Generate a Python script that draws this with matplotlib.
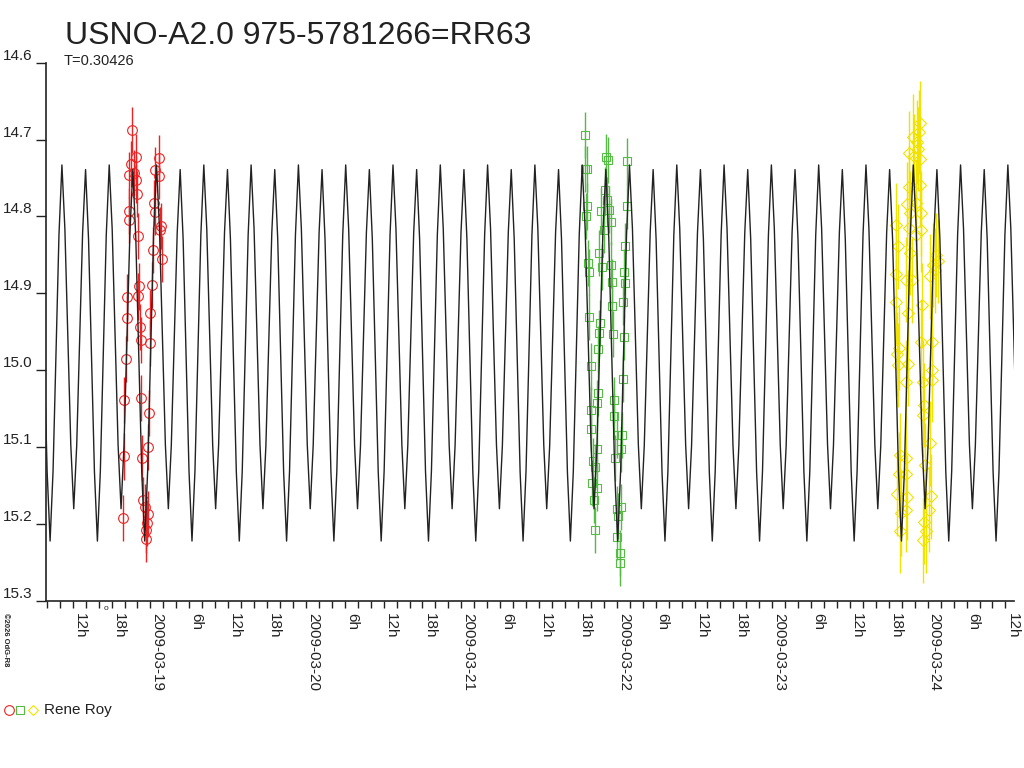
import numpy as np
import matplotlib
matplotlib.use('Agg')
import matplotlib.pyplot as plt
from matplotlib.lines import Line2D
from matplotlib.ticker import FixedLocator, FuncFormatter

plt.rcParams['font.family'] = ['Liberation Sans', 'DejaVu Sans']

# ---------------------------------------------------------------
# data (time = day of March 2009, magnitude)
title = 'USNO-A2.0 975-5781266=RR63'
period = 0.30426
epoch = 18.3545   # deep minimum of the model curve

# one cycle of the model light curve (phase from deep minimum)
model_phase = [0.0, 0.0625, 0.125, 0.1875, 0.25, 0.3125, 0.375, 0.4375,
               0.5, 0.5625, 0.625, 0.6875, 0.75, 0.8125, 0.875, 0.9375]
model_mag = [15.222, 15.131, 14.978, 14.824, 14.733, 14.816, 14.957, 15.097,
             15.180, 15.098, 14.960, 14.821, 14.739, 14.829, 14.981, 15.132]

red_t = [18.8232, 18.8296, 18.8315, 18.8405, 18.8469, 18.8508, 18.8598, 18.8617,
         18.8637, 18.8727, 18.8830, 18.8958, 18.9048, 18.9068, 18.9151, 18.9196,
         18.9215, 18.9241, 18.9325, 18.9370, 18.9408, 18.9453, 18.9537, 18.9627,
         18.9691, 18.9711, 18.9756, 18.9839, 18.9859, 18.9923, 18.9949, 18.9987,
         19.0096, 19.0141, 19.0244, 19.0289, 19.0309, 19.0547, 19.0566, 19.0630,
         19.0656, 19.0720]
red_m = [15.192, 15.112, 15.039, 14.985, 14.932, 14.905, 14.805, 14.793,
         14.746, 14.732, 14.687, 14.743, 14.723, 14.752, 14.771, 14.825,
         14.904, 14.891, 14.944, 14.961, 15.036, 15.114, 15.169, 15.178,
         15.219, 15.207, 15.199, 15.187, 15.100, 15.055, 14.926, 14.965,
         14.889, 14.844, 14.782, 14.739, 14.794, 14.724, 14.747, 14.818,
         14.812, 14.855]
red_err = 0.03

green_t = [21.7961, 21.7942, 21.8071, 21.8051, 21.8090, 21.8135, 21.8199, 21.8244,
           21.8309, 21.8328, 21.8373, 21.8412, 21.8457, 21.8521, 21.8605, 21.8630,
           21.8695, 21.8733, 21.8759, 21.8823, 21.8823, 21.8862, 21.8887, 21.8952,
           21.8971, 21.9080, 21.9183, 21.9228, 21.9293, 21.9376, 21.9421, 21.9531,
           21.9614, 21.9659, 21.9698, 21.9723, 21.9788, 21.9826, 21.9852, 21.9916,
           22.0000, 22.0000, 22.0045, 22.0109, 22.0193, 22.0238, 22.0257, 22.0302,
           22.0341, 22.0386, 22.0431, 22.0450, 22.0495, 22.0560, 22.0560, 22.0643,
           22.0688]
green_m = [14.694, 14.738, 14.738, 14.799, 14.787, 14.860, 14.872, 14.931,
           14.995, 15.052, 15.076, 15.146, 15.118, 15.169, 15.126, 15.208,
           15.102, 15.153, 15.042, 15.030, 14.972, 14.847, 14.952, 14.939,
           14.793, 14.866, 14.818, 14.766, 14.723, 14.779, 14.726, 14.791,
           14.807, 14.863, 14.885, 14.916, 14.953, 15.039, 15.059, 15.114,
           15.084, 15.180, 15.217, 15.189, 15.238, 15.250, 15.178, 15.102,
           15.084, 15.011, 14.911, 14.957, 14.872, 14.839, 14.887, 14.786,
           14.728]
green_err = 0.03

yellow_t = [23.7942, 23.7987, 23.7987, 23.8026, 23.8026, 23.8090, 23.8090, 23.8135,
            23.8154, 23.8199, 23.8199, 23.8264, 23.8585, 23.8630, 23.8630, 23.8630,
            23.8630, 23.8669, 23.8669, 23.8733, 23.8759, 23.8778, 23.8797, 23.8797,
            23.8887, 23.8887, 23.9016, 23.9055, 23.9119, 23.9228, 23.9273, 23.9312,
            23.9402, 23.9441, 23.9486, 23.9486, 23.9486, 23.9595, 23.9595, 23.9595,
            23.9659, 23.9698, 23.9698, 23.9698, 23.9743, 23.9762, 23.9807, 23.9871,
            24.0064, 24.0174, 24.0174, 24.0238, 24.0277, 24.0277, 24.0277, 24.0341,
            24.0450, 24.0560, 24.0662]
yellow_m = [14.875, 14.811, 14.911, 14.979, 15.161, 14.839, 14.993, 14.971,
            15.135, 15.110, 15.209, 15.186, 15.181, 14.882, 15.015, 15.114,
            15.135, 14.784, 15.165, 14.992, 14.925, 14.762, 14.718, 14.815,
            14.796, 14.847, 14.883, 14.696, 14.722, 14.782, 14.824, 14.703,
            14.712, 14.690, 14.679, 14.725, 14.759, 14.796, 14.817, 14.963,
            14.915, 15.015, 15.058, 15.221, 15.197, 15.045, 15.123, 15.209,
            15.181, 14.878, 15.095, 15.164, 14.963, 14.999, 15.012, 14.863,
            14.870, 14.850, 14.858]
yellow_err = 0.055

observer = 'Rene Roy'
# ---------------------------------------------------------------

fig = plt.figure(figsize=(10.24, 7.68), dpi=100)
ax = fig.add_axes([0.0449, 0.2174, 0.9453, 0.7010])

# model curve, repeated cycle by cycle
cycles = np.arange(-1, 22)
mt = (epoch + (cycles[:, None] + np.array(model_phase)[None, :]) * period).ravel()
mm = np.tile(model_mag, len(cycles))

ax.errorbar(red_t, red_m, yerr=red_err, fmt='o', mfc='none', mec='#ee2222',
            ecolor='#ee2222', ms=7, mew=0.8, elinewidth=1.0, capsize=0, zorder=2)
ax.errorbar(green_t, green_m, yerr=green_err, fmt='s', mfc='none', mec='#55bb44',
            ecolor='#55bb44', ms=6.3, mew=0.8, elinewidth=1.0, capsize=0, zorder=2)
ax.errorbar(yellow_t, yellow_m, yerr=yellow_err, fmt='D', mfc='none', mec='#f2e200',
            ecolor='#f2e200', ms=6, mew=0.8, elinewidth=1.0, capsize=0, zorder=2)
ax.plot(mt, mm, color='#222222', lw=1.0, zorder=3)

ax.set_xlim(18.328, 24.555)
ax.set_ylim(15.3, 14.6)

for s in ['top', 'right']:
    ax.spines[s].set_visible(False)
for s in ['left', 'bottom']:
    ax.spines[s].set_color('#222222')
    ax.spines[s].set_linewidth(1.2)

# y axis
yt = [14.6, 14.7, 14.8, 14.9, 15.0, 15.1, 15.2, 15.3]
ax.set_yticks(yt)
ax.set_yticklabels(['%.1f' % v for v in yt])
ax.tick_params(axis='y', direction='out', length=7, width=1, color='#222222',
               labelsize=11, labelcolor='#222222', pad=3)
for lbl in ax.get_yticklabels():
    lbl.set_va('bottom')

# x axis: a tick every 2 hours, a label every 6 hours
xt = np.arange(18 * 12 + 4, 24.56 * 12) / 12.0


def hour_label(x, pos):
    hours = int(round(x * 24))
    day, h = divmod(hours, 24)
    if h == 0:
        return '2009-03-%02d' % day
    if h % 6 == 0:
        return '%dh' % h
    return ''


ax.xaxis.set_major_locator(FixedLocator(xt))
ax.xaxis.set_major_formatter(FuncFormatter(hour_label))
ax.tick_params(axis='x', direction='out', length=5, width=1, color='#222222',
               labelsize=11, labelcolor='#222222', pad=3.5, labelrotation=270)
for lbl in ax.get_xticklabels():
    lbl.set_ha('left')
    lbl.set_va('top')

ax.text(18.716, -0.008, 'o', transform=ax.get_xaxis_transform(), fontsize=6,
        color='#222222', ha='center', va='top')

# texts
fig.text(0.0635, 0.9427, title, fontsize=23, color='#222222', va='baseline')
fig.text(0.0625, 0.9150, 'T=0.30426', fontsize=10.5, color='#222222', va='baseline')
fig.text(0.002, 0.2018, '\u00a92026 OdG-R8', fontsize=5.5, fontweight='bold',
         rotation=270, ha='left', va='top', color='#222222')

# legend
fig.add_artist(Line2D([0.0088], [0.0755], transform=fig.transFigure, marker='o',
                      mfc='none', mec='#ee2222', ms=7, mew=0.8, ls='none'))
fig.add_artist(Line2D([0.0200], [0.0755], transform=fig.transFigure, marker='s',
                      mfc='none', mec='#55bb44', ms=5.5, mew=0.8, ls='none'))
fig.add_artist(Line2D([0.0322], [0.0755], transform=fig.transFigure, marker='D',
                      mfc='none', mec='#f2e200', ms=5.5, mew=0.8, ls='none'))
fig.text(0.043, 0.0755, observer, fontsize=11, color='#222222', va='center')

fig.savefig('out.png', dpi=100)
